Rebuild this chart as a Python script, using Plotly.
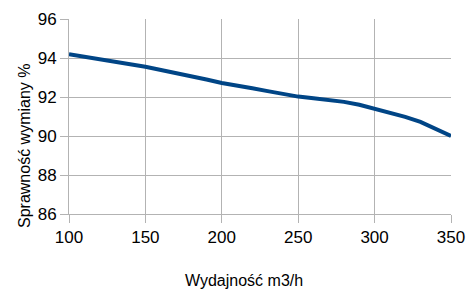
import plotly.graph_objects as go

flow = [100, 110, 120, 130, 140, 150, 160, 170, 180, 190, 200, 210, 220,
        230, 240, 250, 260, 270, 280, 290, 300, 310, 320, 330, 340, 350]
efficiency = [94.19, 94.05, 93.93, 93.80, 93.68, 93.55, 93.40, 93.25, 93.05,
              92.90, 92.72, 92.60, 92.45, 92.30, 92.15, 92.02, 91.93, 91.85,
              91.75, 91.60, 91.40, 91.17, 90.98, 90.72, 90.38, 90.00]
x_title = "Wydajność m3/h"
y_title = "Sprawność wymiany %"

fig = go.Figure()
fig.add_trace(go.Scatter(x=flow, y=efficiency, mode="lines",
                         line=dict(color="#004586", width=4)))

grid = "#b3b3b3"
fig.update_layout(
    width=467, height=289,
    margin=dict(l=69, r=16, t=19, b=75),
    paper_bgcolor="white", plot_bgcolor="white",
    showlegend=False,
    font=dict(family="Liberation Sans, Arial, sans-serif", color="black", size=17),
)
fig.update_xaxes(range=[100, 350], dtick=50, tick0=100, automargin=False,
                 showgrid=True, gridcolor=grid, gridwidth=1,
                 showline=True, linecolor=grid, linewidth=1,
                 ticks="outside", ticklen=8, tickcolor=grid,
                 tickfont=dict(size=17), zeroline=False)
fig.update_yaxes(range=[86, 96], dtick=2, tick0=86, automargin=False,
                 showgrid=True, gridcolor=grid, gridwidth=1,
                 showline=True, linecolor=grid, linewidth=1,
                 ticks="outside", ticklen=8, tickcolor=grid,
                 tickfont=dict(size=17), zeroline=False)
fig.add_annotation(text=x_title, xref="paper", yref="paper", x=0.458, y=-0.342,
                   xanchor="center", yanchor="middle", showarrow=False,
                   font=dict(size=16))
fig.add_annotation(text=y_title, xref="paper", yref="paper", x=-0.115, y=0.349,
                   xanchor="center", yanchor="middle", showarrow=False,
                   textangle=-90, font=dict(size=16))

fig.write_html("out.html", config={"displayModeBar": False},
               post_script="document.body.style.margin='0';document.body.style.overflow='hidden';")
